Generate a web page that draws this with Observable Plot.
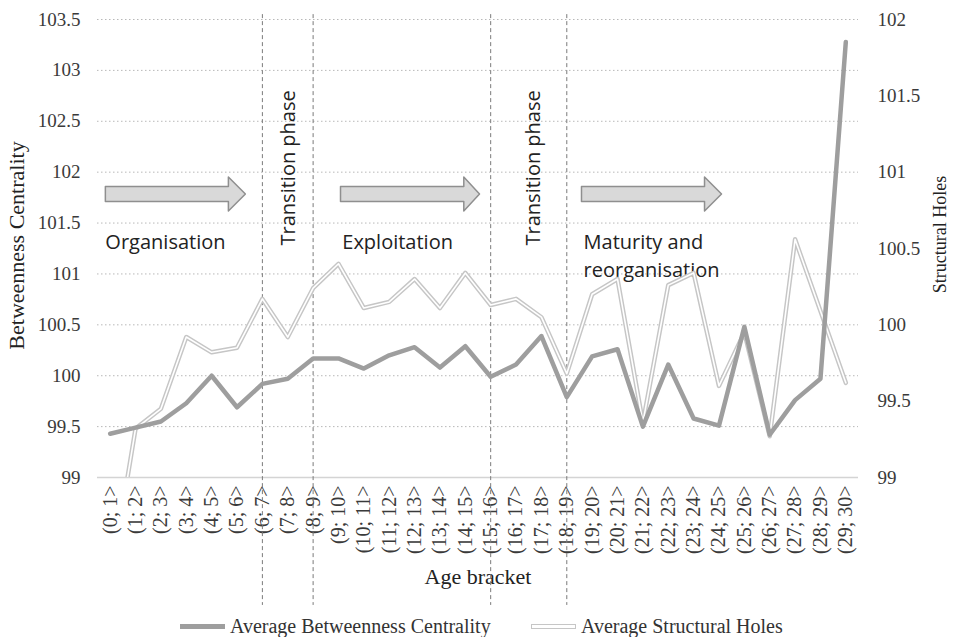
<!DOCTYPE html>
<html><head><meta charset="utf-8">
<script src="https://cdn.jsdelivr.net/npm/d3@7"></script>
<script src="https://cdn.jsdelivr.net/npm/@observablehq/plot@0.6"></script>
<style>
body{margin:0;background:#fff;}
#wrap{position:relative;width:954px;height:637px;overflow:hidden;}
.legend{position:absolute;top:614px;height:24px;font-family:"Liberation Serif",serif;font-size:20px;color:#333;display:flex;align-items:center;white-space:nowrap;}
.sw{display:inline-block;width:45px;margin-right:5px;box-sizing:border-box;}
</style></head><body><div id="wrap"></div>
<script>
// ---- data ----
const ageBrackets = ["(0; 1>","(1; 2>","(2; 3>","(3; 4>","(4; 5>","(5; 6>","(6; 7>","(7; 8>","(8; 9>","(9; 10>",
  "(10; 11>","(11; 12>","(12; 13>","(13; 14>","(14; 15>","(15; 16>","(16; 17>","(17; 18>","(18; 19>","(19; 20>",
  "(20; 21>","(21; 22>","(22; 23>","(23; 24>","(24; 25>","(25; 26>","(26; 27>","(27; 28>","(28; 29>","(29; 30>"];
const betweenness = [99.43, 99.49, 99.55, 99.73, 100.0, 99.69, 99.92, 99.97, 100.17, 100.17,
  100.07, 100.2, 100.28, 100.08, 100.29, 99.99, 100.11, 100.39, 99.79, 100.19,
  100.26, 99.5, 100.11, 99.58, 99.51, 100.48, 99.42, 99.76, 99.97, 103.28];
const structuralHoles = [98.31, 99.32, 99.45, 99.92, 99.82, 99.85, 100.17, 99.92, 100.24, 100.40,
  100.11, 100.15, 100.30, 100.11, 100.34, 100.13, 100.17, 100.05, 99.68, 100.20,
  100.30, 99.36, 100.26, 100.34, 99.60, 99.95, 99.27, 100.56, 100.09, 99.62];
const leftTicks = [99, 99.5, 100, 100.5, 101, 101.5, 102, 102.5, 103, 103.5];
const rightTicks = [99, 99.5, 100, 100.5, 101, 101.5, 102];
const phaseBoundaries = [6, 8, 15, 18]; // bracket index of each dashed divider
const phaseNames = ["Organisation", "Exploitation", "Maturity and\nreorganisation"];
const transitionName = "Transition phase";

// ---- annotation layout (index / value units) ----
const phaseTextX = [-0.19, 9.15, 18.66];
const transitionTextX = [7.03, 16.7];
const arrowSpans = [[-0.19, 4.66, 5.33], [9.08, 13.94, 14.56], [18.58, 23.43, 24.1]];
const arrowY = 101.785, bodyHalf = 0.074, headHalf = 0.167;

// secondary axis mapping: [99,102] -> [99,103.5]
const toLeft = v => 99 + (v - 99) * 1.5;
const fromLeft = v => Math.round((99 + (v - 99) / 1.5) * 100) / 100;

const data = ageBrackets.map((a, i) => ({i, bc: betweenness[i], sh: structuralHoles[i]}));
const arrowPts = arrowSpans.flatMap(([x1, xb, tip], k) => [
  [x1, arrowY + bodyHalf], [xb, arrowY + bodyHalf], [xb, arrowY + headHalf], [tip, arrowY],
  [xb, arrowY - headHalf], [xb, arrowY - bodyHalf], [x1, arrowY - bodyHalf], [x1, arrowY + bodyHalf]
].map(p => ({x: p[0], y: p[1], k})));

const chart = Plot.plot({
  width: 954, height: 610,
  marginLeft: 97, marginRight: 96, marginTop: 19, marginBottom: 133,
  style: {fontFamily: "'Liberation Serif', serif", fontSize: "19px", color: "#3a3a3a", background: "#fff"},
  x: {type: "linear", domain: [-0.5, 29.5]},
  y: {domain: [99, 103.5]},
  marks: [
    Plot.gridY(leftTicks.slice(1), {stroke: "#b8b8b8", strokeOpacity: 1, strokeDasharray: "1.5,2.5"}),
    Plot.ruleY([99], {stroke: "#d4d4d4", strokeWidth: 1.5}),
    Plot.axisY(leftTicks, {anchor: "left", tickSize: 0, tickPadding: 17, label: null, tickFormat: d => String(d)}),
    Plot.axisY(rightTicks.map(toLeft), {anchor: "right", tickSize: 0, tickPadding: 19, label: null, tickFormat: d => String(fromLeft(d))}),
    Plot.axisX(d3.range(ageBrackets.length), {anchor: "bottom", tickSize: 0, tickPadding: 8, tickRotate: -90, label: null, tickFormat: i => ageBrackets[i], fontSize: 20}),
    Plot.text(["Betweenness Centrality"], {frameAnchor: "left", dx: -81, dy: -3, rotate: -90, textAnchor: "middle", fontSize: 22, fill: "#222"}),
    Plot.text(["Structural Holes"], {frameAnchor: "right", dx: 82, dy: -14, rotate: -90, textAnchor: "middle", fontSize: 18, fill: "#222"}),
    Plot.text(["Age bracket"], {frameAnchor: "bottom", dy: 106, textAnchor: "middle", fontSize: 22, fill: "#222"}),
    Plot.ruleX(phaseBoundaries, {x: d => d, y1: 103.548, y2: 97.743, stroke: "#7a7a7a", strokeDasharray: "4,3", strokeWidth: 1}),
    Plot.line(arrowPts, {x: "x", y: "y", z: "k", fill: "#d9d9d9", stroke: "#8f8f8f", strokeWidth: 1.5, curve: "linear"}),
    Plot.text(phaseNames, {x: (d, i) => phaseTextX[i], y: 101.44, text: d => d, textAnchor: "start", lineAnchor: "top", lineHeight: 1.4,
      fontFamily: "'Open Sans', sans-serif", fontSize: 20, fill: "#222"}),
    Plot.text(transitionTextX, {x: d => d, y: 101.28, text: () => transitionName, rotate: -90, textAnchor: "start",
      fontFamily: "'Open Sans', sans-serif", fontSize: 20, fill: "#222"}),
    Plot.line(data, {x: "i", y: d => toLeft(d.sh), stroke: "#c6c6c6", strokeWidth: 4.5, clip: true}),
    Plot.line(data, {x: "i", y: d => toLeft(d.sh), stroke: "#fff", strokeWidth: 1.6, clip: true}),
    Plot.line(data, {x: "i", y: "bc", stroke: "#9e9e9e", strokeWidth: 4.5, clip: true})
  ]
});
const wrap = document.getElementById("wrap");
wrap.appendChild(chart);
const lg1 = document.createElement("div");
lg1.className = "legend"; lg1.style.left = "180px";
lg1.innerHTML = '<span class="sw" style="height:5px;background:#9e9e9e"></span>Average Betweenness Centrality';
const lg2 = document.createElement("div");
lg2.className = "legend"; lg2.style.left = "531px";
lg2.innerHTML = '<span class="sw" style="height:5px;border:1.5px solid #c6c6c6;background:#fff"></span>Average Structural Holes';
wrap.appendChild(lg1); wrap.appendChild(lg2);
</script></body></html>
